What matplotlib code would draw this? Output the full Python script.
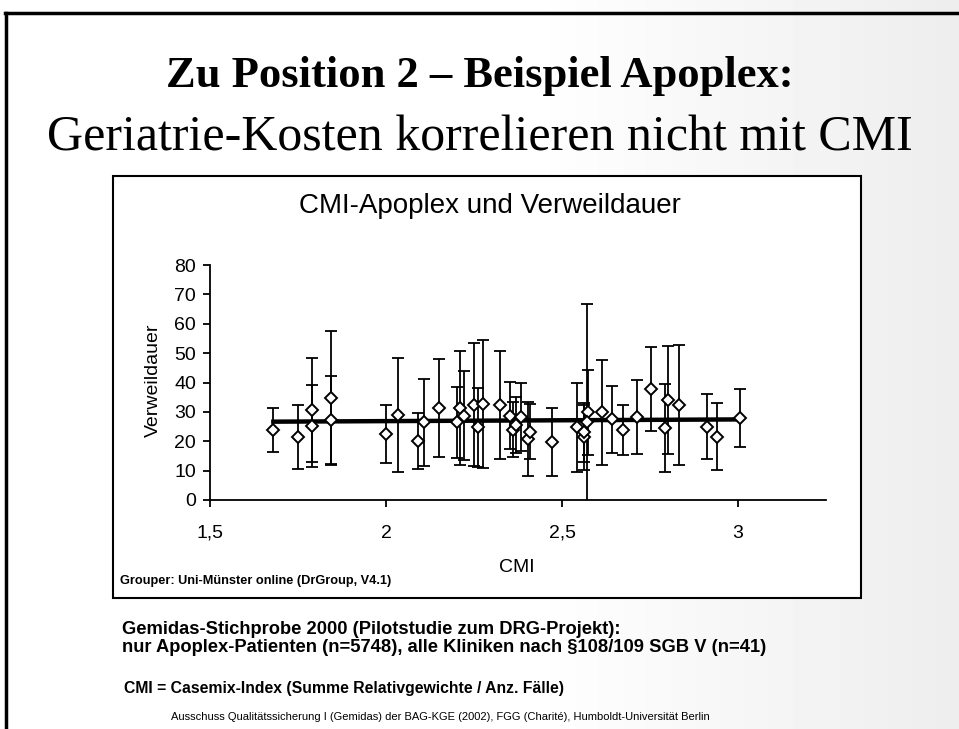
import numpy as np
import matplotlib
matplotlib.use("Agg")
import matplotlib.pyplot as plt
from matplotlib.patches import Rectangle
from matplotlib.lines import Line2D

# CMI per clinic (x), mean length of stay (y) and its spread (err)
cmi = [1.680, 1.751, 1.791, 1.791, 1.844, 1.844, 2.000, 2.035, 2.092, 2.109,
       2.150, 2.202, 2.210, 2.222, 2.251, 2.260, 2.275, 2.324, 2.352, 2.362,
       2.369, 2.383, 2.402, 2.409, 2.472, 2.542, 2.562, 2.563, 2.573, 2.570,
       2.613, 2.643, 2.674, 2.712, 2.752, 2.793, 2.802, 2.832, 2.911, 2.941,
       3.006]
verweildauer = [23.9, 21.6, 30.7, 25.3, 34.7, 27.1, 22.4, 29.0, 20.1, 26.4,
                31.3, 26.4, 31.3, 28.7, 32.4, 24.7, 32.8, 32.4, 28.7, 23.9,
                25.6, 28.4, 20.7, 23.3, 19.7, 24.7, 21.3, 23.0, 29.8, 26.7,
                29.8, 27.5, 23.9, 28.2, 37.8, 24.5, 34.1, 32.4, 25.0, 21.6,
                27.9]
fehler = [7.5, 10.9, 17.7, 14.0, 22.8, 15.0, 9.8, 19.4, 9.6, 14.7,
          16.7, 12.0, 19.4, 15.2, 20.9, 13.5, 21.8, 18.4, 11.5, 9.3,
          9.5, 11.6, 12.5, 9.3, 11.6, 15.0, 11.0, 10.0, 14.5, 40.0,
          17.8, 11.4, 8.6, 12.7, 14.4, 15.1, 18.3, 20.5, 11.0, 11.3,
          9.9]
xticks = [1.5, 2, 2.5, 3]
xticklabels = ["1,5", "2", "2,5", "3"]
yticks = [0, 10, 20, 30, 40, 50, 60, 70, 80]

W, H = 959, 729
fig = plt.figure(figsize=(W / 100, H / 100), dpi=100)

# slide background with light grey fade on the right
bg = fig.add_axes([0, 0, 1, 1], zorder=-10)
xs = np.linspace(0, 1, 300)
grad = np.tile(np.where(xs < 0.55, 1.0, 1.0 - (xs - 0.55) / 0.45 * 0.07), (2, 1))
bg.imshow(grad, cmap="gray", vmin=0, vmax=1, aspect="auto", extent=[0, 1, 0, 1])
bg.set_xlim(0, 1)
bg.set_ylim(0, 1)
bg.axis("off")

def fx(px):
    return px / W

def fy(py):
    return 1 - py / H

# slide frame (top and left edge)
fig.add_artist(Line2D([fx(5), 1], [fy(13), fy(13)], color="black", lw=2.5))
fig.add_artist(Line2D([fx(6), fx(6)], [fy(13), 0], color="black", lw=2.5))

serif = ["Liberation Serif", "DejaVu Serif"]
sans = ["Liberation Sans", "DejaVu Sans"]

fig.text(0.5, fy(76), "Zu Position 2 – Beispiel Apoplex:", family=serif,
         weight="bold", fontsize=32, ha="center", va="center")
fig.text(0.5, fy(138), "Geriatrie-Kosten korrelieren nicht mit CMI", family=serif,
         fontsize=36, ha="center", va="center")

# chart box
box = Rectangle((fx(113), fy(598)), fx(861) - fx(113), fy(176) - fy(598),
                facecolor="white", edgecolor="black", lw=1.5, zorder=-5)
fig.add_artist(box)

fig.text(fx(490), fy(206), "CMI-Apoplex und Verweildauer", family=sans,
         fontsize=20, ha="center", va="center")

ax = fig.add_axes([fx(210), fy(500), fx(826) - fx(210), fy(265) - fy(500)])
ax.set_zorder(5)
ax.set_facecolor("none")
ax.errorbar(cmi, verweildauer, yerr=fehler, fmt="none", ecolor="black",
            elinewidth=1.3, capsize=4.5, capthick=1.3, zorder=2)

k, d = np.polyfit(cmi, verweildauer, 1)
xt = np.array([min(cmi), max(cmi)])
ax.plot(xt, k * xt + d, color="black", lw=3.2, zorder=3)

ax.plot(cmi, verweildauer, "D", markersize=6, markerfacecolor="white",
        markeredgecolor="black", markeredgewidth=1.4, zorder=4, clip_on=False)

ax.set_xlim(1.5, 3.25)
ax.set_ylim(0, 80)
ax.set_xticks(xticks)
ax.set_xticklabels(xticklabels)
ax.set_yticks(yticks)
for s in ["top", "right"]:
    ax.spines[s].set_visible(False)
ax.spines["left"].set_linewidth(1.3)
ax.spines["bottom"].set_linewidth(1.3)
ax.tick_params(direction="out", length=5, width=1.3, labelsize=14, pad=5)
ax.tick_params(axis="x", pad=13)
for lab in ax.get_xticklabels() + ax.get_yticklabels():
    lab.set_family(sans)

fig.text(fx(153), fy(380), "Verweildauer", family=sans, fontsize=14,
         rotation=90, ha="center", va="center")
fig.text(fx(517), fy(567), "CMI", family=sans, fontsize=14,
         ha="center", va="center")
fig.text(fx(120), fy(581), "Grouper: Uni-Münster online (DrGroup, V4.1)",
         family=sans, weight="bold", fontsize=9.2, ha="left", va="center")

fig.text(fx(122), fy(629), "Gemidas-Stichprobe 2000 (Pilotstudie zum DRG-Projekt):",
         family=sans, weight="bold", fontsize=13.2, ha="left", va="center")
fig.text(fx(122), fy(648),
         "nur Apoplex-Patienten (n=5748), alle Kliniken nach §108/109 SGB V (n=41)",
         family=sans, weight="bold", fontsize=13.2, ha="left", va="center")
fig.text(fx(124), fy(688), "CMI = Casemix-Index (Summe Relativgewichte / Anz. Fälle)",
         family=sans, weight="bold", fontsize=11.3, ha="left", va="center")
fig.text(fx(171), fy(717),
         "Ausschuss Qualitätssicherung I (Gemidas) der BAG-KGE (2002), FGG (Charité), Humboldt-Universität Berlin",
         family=sans, fontsize=8, ha="left", va="center")

fig.savefig("out.png", dpi=100)
